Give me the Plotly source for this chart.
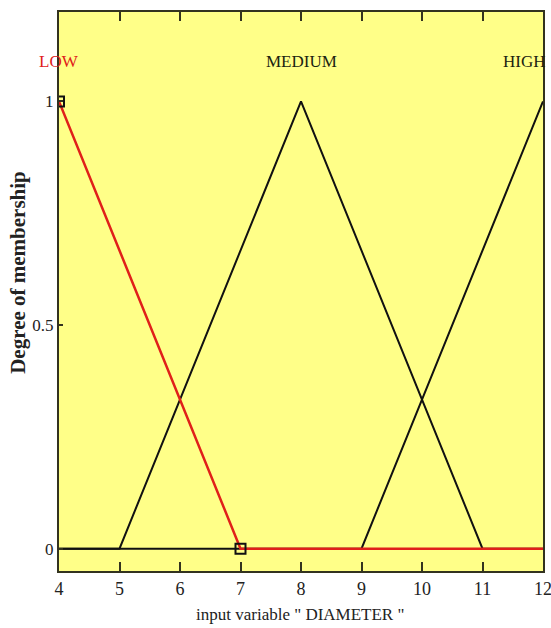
import plotly.graph_objects as go

# Membership functions of the input variable "DIAMETER" (triangular)
low_x = [4, 7, 12]
low_y = [1, 0, 0]
medium_x = [4, 5, 8, 11, 12]
medium_y = [0, 0, 1, 0, 0]
high_x = [4, 9, 12]
high_y = [0, 0, 1]

mf_names = ["LOW", "MEDIUM", "HIGH"]
mf_label_x = [4, 8, 12]
mf_label_colors = ["#e0201a", "#1c2410", "#1c2410"]
mf_label_anchor = ["center", "center", "right"]
mf_label_shift = [0, 0, 5]

x_ticks = [4, 5, 6, 7, 8, 9, 10, 11, 12]
y_ticks = [0, 0.5, 1]
y_tick_text = ["0", "0.5", "1"]

SERIF = "Liberation Serif, Times New Roman, serif"
AXIS_COLOR = "#33331f"

fig = go.Figure()

# unselected functions in black
fig.add_trace(go.Scatter(x=medium_x, y=medium_y, mode="lines",
                         line=dict(color="#111111", width=2), hoverinfo="skip"))
fig.add_trace(go.Scatter(x=high_x, y=high_y, mode="lines",
                         line=dict(color="#111111", width=2), hoverinfo="skip"))
# selected function in red, with square handles at its breakpoints
fig.add_trace(go.Scatter(x=low_x, y=low_y, mode="lines",
                         line=dict(color="#e0201a", width=2.5), hoverinfo="skip"))
fig.add_trace(go.Scatter(x=low_x[:2], y=low_y[:2], mode="markers",
                         marker=dict(symbol="square-open", size=10, color="#111111",
                                     line=dict(width=2)),
                         hoverinfo="skip"))

for name, xv, col, anc, sh in zip(mf_names, mf_label_x, mf_label_colors,
                                  mf_label_anchor, mf_label_shift):
    fig.add_annotation(x=xv, y=1.09, text=name, showarrow=False,
                       xanchor=anc, yanchor="middle", xshift=sh,
                       font=dict(family=SERIF, size=17, color=col))

fig.add_annotation(xref="paper", yref="paper", x=-0.085, y=0.535,
                   text="<b>Degree of membership</b>", textangle=-90,
                   showarrow=False, xanchor="center", yanchor="middle",
                   font=dict(family=SERIF, size=21, color="#222222"))
fig.add_annotation(xref="paper", yref="paper", x=0.497, y=-0.078,
                   text='input variable " DIAMETER "',
                   showarrow=False, xanchor="center", yanchor="middle",
                   font=dict(family=SERIF, size=17, color="#222222"))

fig.update_layout(
    width=551, height=628,
    margin=dict(l=59, r=8, t=12, b=57),
    paper_bgcolor="white",
    plot_bgcolor="#ffff88",
    showlegend=False,
    xaxis=dict(range=[4, 12], tickvals=x_ticks, ticks="inside", ticklen=9,
               tickwidth=1.5, tickcolor=AXIS_COLOR, showline=True, linewidth=2,
               linecolor=AXIS_COLOR, mirror="ticks", showgrid=False,
               zeroline=False, automargin=False, ticklabeloverflow="allow",
               tickfont=dict(family=SERIF, size=18, color="#222222")),
    yaxis=dict(range=[-0.05, 1.2], tickvals=y_ticks, ticktext=y_tick_text,
               ticks="inside", ticklen=4, tickwidth=1.5, tickcolor=AXIS_COLOR,
               showline=True, linewidth=2, linecolor=AXIS_COLOR, mirror=True,
               showgrid=False, zeroline=False, automargin=False,
               tickfont=dict(family=SERIF, size=17, color="#222222")),
)

fig.write_html("out.html")
